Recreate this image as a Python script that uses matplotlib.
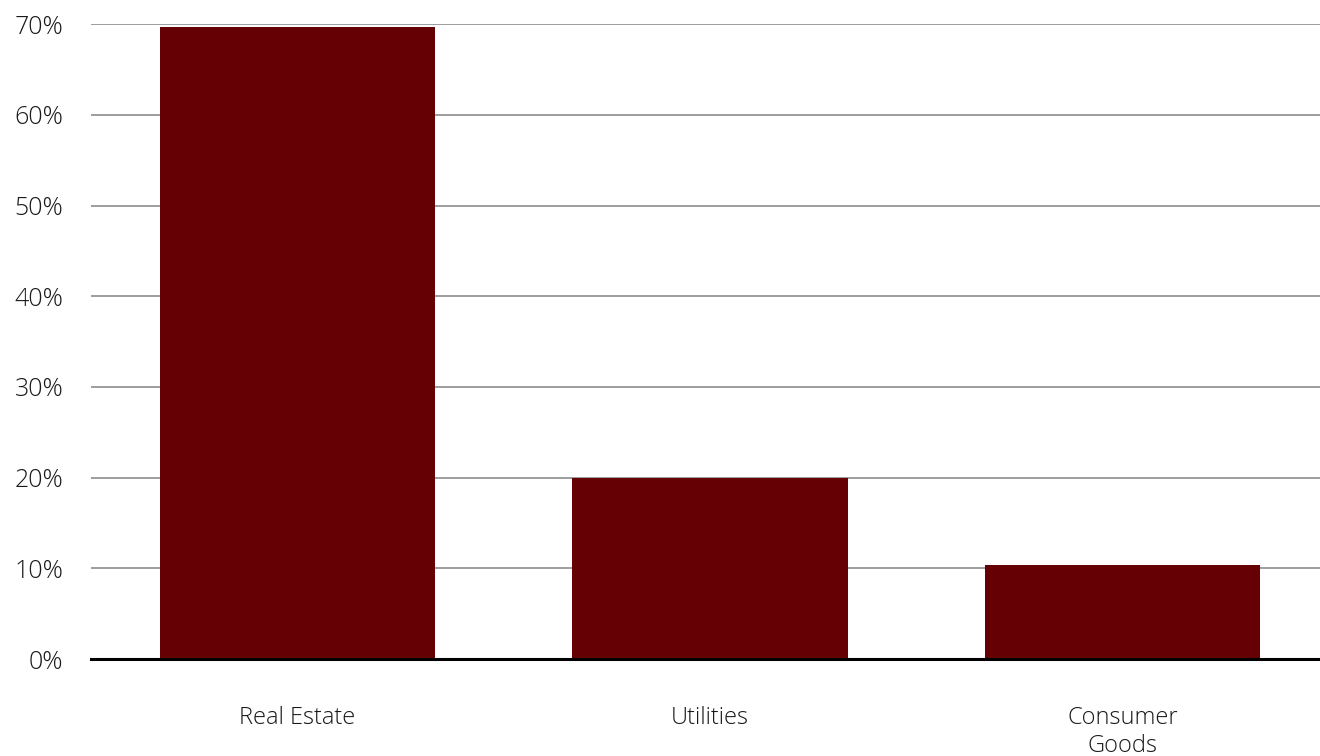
import matplotlib
matplotlib.use('Agg')
import matplotlib.pyplot as plt
from matplotlib.ticker import FuncFormatter

categories = ['Real Estate', 'Utilities', 'Consumer\nGoods']
shares = [69.7, 20.0, 10.4]          # percent
yticks = [0, 10, 20, 30, 40, 50, 60, 70]

plt.rcParams['font.family'] = ['Open Sans', 'DejaVu Sans']

fig = plt.figure(figsize=(13.2, 7.56), dpi=100)
ax = fig.add_axes([0.0691, 0.1283, 0.9375, 0.8397])

x = range(len(categories))
ax.bar(x, shares, width=0.667, color='#650005', zorder=3)

ax.set_xlim(-0.5, len(categories) - 0.5)
ax.set_ylim(0, 70)
ax.set_yticks(yticks)
ax.yaxis.set_major_formatter(FuncFormatter(lambda v, p: f'{v:.0f}%'))
ax.set_xticks(list(x))
ax.set_xticklabels(categories, linespacing=1.2)

ax.grid(axis='y', color='#8c8c8c', linewidth=1.2, zorder=1)
for s in ['top', 'right', 'left']:
    ax.spines[s].set_visible(False)
ax.spines['bottom'].set_linewidth(2.2)
ax.spines['bottom'].set_color('black')
ax.spines['bottom'].set_zorder(4)

ax.tick_params(axis='y', length=0, pad=20, labelsize=18, labelcolor='#1a1a1a')
ax.tick_params(axis='x', length=0, pad=34, labelsize=17, labelcolor='#1a1a1a')
for lab in ax.get_xticklabels() + ax.get_yticklabels():
    lab.set_fontweight('light')

fig.savefig('out.png', dpi=100)
